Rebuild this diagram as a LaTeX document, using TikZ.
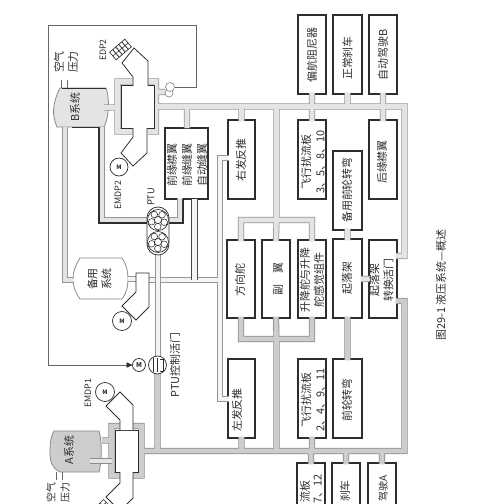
\documentclass[tikz,border=0pt]{standalone}
\usepackage{fontspec}
\setmainfont{Noto Sans CJK SC}
\usetikzlibrary{calc,arrows.meta}
\definecolor{edgeL}{HTML}{969696}
\definecolor{fillL}{HTML}{E4E4E4}
\definecolor{edgeD}{HTML}{8A8A8A}
\definecolor{fillD}{HTML}{CDCDCD}
\definecolor{edgeK}{HTML}{4A4A4A}
\definecolor{fillW}{HTML}{F4F4F4}
\definecolor{ink}{HTML}{2E2E2E}
\tikzset{
  boxnode/.style={draw=ink,line width=0.8pt,fill=white,inner sep=0pt,outer sep=-0.8pt},
  lbl/.style={rotate=90,inner sep=0pt,font=\fontsize{8.2pt}{10.5pt}\selectfont,text=ink,align=center},
  lblcut/.style={rotate=90,inner sep=0pt,font=\fontsize{7.5pt}{10.5pt}\selectfont,text=ink,align=center},
  tiny/.style={rotate=90,inner sep=0pt,font=\fontsize{6.6pt}{8pt}\selectfont,text=ink},
  airline/.style={draw=gray!80!black,line width=0.5pt},
  pumpbody/.style={draw=ink,line width=0.6pt,fill=white,line join=miter},
  motor/.style={circle,draw=ink,line width=0.55pt,fill=white,inner sep=0pt,outer sep=0pt,
     font=\fontsize{4.5pt}{5pt}\selectfont\bfseries,text=ink},
  tank/.style={draw=edgeD,line width=0.6pt},
}
\newcommand\bx[5]{\node[boxnode,minimum width={(#4-#2)*0.75},minimum height={(#5-#3)*0.75}] (#1) at ({(#2+#4)/2},{(#3+#5)/2}) {};}
\newcommand\duct[3]{\draw[line width=4.6pt,#1]#3;\draw[line width=3.4pt,#2]#3;}
\newcommand\gearbox[5]{% cx cy ux uy name
  \coordinate (#5) at (#1,#2);
  \draw[ink,line width=0.5pt,fill=white]
   ({#1-10*#3-5*(-#4)},{#2-10*#4-5*#3}) -- ({#1+10*#3-5*(-#4)},{#2+10*#4-5*#3}) --
   ({#1+10*#3+5*(-#4)},{#2+10*#4+5*#3}) -- ({#1-10*#3+5*(-#4)},{#2-10*#4+5*#3}) -- cycle;
  \foreach \t in {-6,-2,2,6}{
   \draw[ink,line width=0.6pt] ({#1+\t*#3-5*(-#4)},{#2+\t*#4-5*#3}) -- ({#1+\t*#3+5*(-#4)},{#2+\t*#4+5*#3});}
  \draw[ink,line width=0.4pt] ({#1-10*#3},{#2-10*#4}) -- ({#1+10*#3},{#2+10*#4});
}
\newcommand\ptugear[3]{% cx cy name
  \node[circle,draw=ink,line width=0.5pt,fill=white,minimum size={21*0.75},inner sep=0pt,outer sep=0pt] (#3) at (#1,#2) {};
  \draw[ink,line width=0.4pt] (#1,#2) circle (3.6);
  \foreach \a in {20,92,164,236,308}{
   \draw[ink,line width=0.4pt] ({#1+6.6*cos(\a)},{#2+6.6*sin(\a)}) circle (3.3);}
}
\begin{document}
\begin{tikzpicture}[x=0.75pt,y=-0.75pt]
\useasboundingbox (0,0) rectangle (499,504);
\clip (0,0) rectangle (499,504);
\fill[white] (0,0) rectangle (499,504);

% ---- functional boxes
\bx{yaw}{298}{15}{326}{94}
\bx{nbrake}{333}{15}{362}{94}
\bx{apb}{369}{15}{397}{94}
\bx{spa}{298}{120}{326}{199}
\bx{trail}{369}{120}{397}{199}
\bx{altnose}{333}{151}{362}{230}
\bx{slat}{165}{128}{208}{199}
\bx{rrev}{228}{120}{255}{199}
\bx{rud}{227}{240}{255}{318}
\bx{ail}{262}{240}{290}{318}
\bx{ele}{298}{240}{326}{318}
\bx{lg}{333}{239}{362}{318}
\bx{lgv}{369}{240}{397}{318}
\bx{lrev}{228}{359}{255}{438}
\bx{spb}{298}{359}{326}{438}
\bx{nose}{333}{359}{362}{438}
\bx{spc}{297}{463}{325}{540}
\bx{abrake}{332}{463}{360}{540}
\bx{apa}{368}{463}{396}{540}

% ---- reservoirs
\draw[tank,fill=fillL] (60,88) -- (106,88) .. controls (109.5,98) and (109.5,116) .. (104,127)
   -- (57,127) .. controls (52,116) and (52,104) .. (60,88) -- cycle;
\draw[ink,line width=0.7pt] (62,88) -- (106,88) (72,127) -- (99,127);
\draw[tank,fill=white] (80,258) -- (122,258) .. controls (127,266) and (128,272) .. (128,279)
   .. controls (128,286) and (127,292) .. (122,299) -- (80,299)
   .. controls (75,292) and (73,286) .. (73,279) .. controls (73,272) and (75,266) .. (80,258) -- cycle;
\draw[tank,fill=fillD] (54,431) -- (99,431) .. controls (102,440) and (102,462) .. (99,472)
   -- (60,472) .. controls (52,468) and (50,462) .. (50,452) .. controls (50,442) and (51,436) .. (54,431) -- cycle;

% air stubs
\draw[airline] (61,88) -- (61,80) (67,88) -- (67,80);
\draw[airline] (56,472) -- (56,480) (62,472) -- (62,480);

% ---- named junctions
\coordinate (tl) at (156,106.5);
\coordinate (tr) at (404.5,106.5);
\coordinate (br) at (404.5,451);
\coordinate (bl) at (141.5,451);
\coordinate (mt) at (276.5,220);
\coordinate (mb) at (276.5,339);
\coordinate (pu) at (0,256);
\coordinate (pl) at (0,301);
\coordinate (pm) at (0,279);
\coordinate (stby) at (0,280);
\coordinate (rl) at (220,158);
\coordinate (rb) at (220,399);

% ---- B system (light)
\duct{edgeL}{fillL}{
  (133,81.5) -- (117.5,81.5) -- (117.5,131.5) -- (133,131.5)
  (148,131.5) -- (156,131.5) -- (156,81.5) -- (148,81.5)
  (104,107.5) -- (117.5,107.5)
  (156,92) -- (165,92)
  (tl) -- (tr) -- (tr |- pu) -- (lgv.east |- pu)
  (yaw.south) -- (yaw.south |- tl)
  (nbrake.south) -- (nbrake.south |- tl)
  (apb.south) -- (apb.south |- tl)
  (spa.north) -- (spa.north |- tl)
  (trail.north) -- (trail.north |- tl)
  (rrev.north) -- (rrev.north |- tl)
  (187,128) -- (187,106.5)
  (mt |- tl) -- (mt)
  (rud.north) -- (rud.north |- mt) -- (ele.north |- mt) -- (ele.north)
  (mt) -- (ail.north)
  (altnose.south) -- (lg.north)
  (lg.east |- pm) -- (lgv.west |- pm)
}
% system lines on the left of the reversers
\duct{edgeL}{fillW}{
  (rrev.west |- rl) -- (rl) -- (rb) -- (lrev.west |- rb)
  (149,280) -- (stby -| rl)
  (128,279) -- (136,279)
}
\duct{edgeK}{fillW}{ (194.5,198.5) -- (194.5,280) }
\duct{edgeL}{fillL}{ (65,127) -- (65,280) -- (73.5,280) }
% B reservoir to PTU
\duct{edgeL}{fillL}{ (102,127) -- (102,220.5) -- (180,220.5) -- (slat.south -| 180,0) }
\draw[ink,line width=0.8pt] (99,127) -- (99,223) -- (183,223) -- (183,199);

% PTU line
\duct{edgeL}{fillW}{ (158,250) -- (158,358) }

% ---- dark lower part
\duct{edgeD}{fillD}{
  (bl) -- (br) -- (br |- pl) -- (lgv.east |- pl)
  (157.5,372) -- (157.5,451)
  (lrev.south) -- (lrev.south |- br)
  (spb.south) -- (spb.south |- br)
  (spc.north) -- (spc.north |- br)
  (abrake.north) -- (abrake.north |- br)
  (apa.north) -- (apa.north |- br)
  (lg.south) -- (nose.north)
  (mb) -- (mb |- br)
  (rud.south) -- (rud.south |- mb) -- (ele.south |- mb) -- (ele.south)
  (mb) -- (ail.south)
  (120,426) -- (111.5,426) -- (111.5,475.5) -- (120,475.5)
  (133,426) -- (141.5,426) -- (141.5,475.5) -- (133,475.5)
  (102,440.5) -- (111.5,440.5)
}
\duct{edgeD}{fillL}{ (90,461) -- (111.5,461) }

% ---- pump casings
\draw[ink,line width=0.65pt,fill=white] (121,85) rectangle (154,128);
\draw[ink,line width=0.65pt,fill=white] (115,430) rectangle (138,472);
\draw[pumpbody] (133,86) -- (133,77) -- (122,63) -- (134,48) -- (148,61) -- (148,86);
\draw[pumpbody] (133,128) -- (133,137) -- (121,153) -- (133,166) -- (147,153) -- (147,128);
\draw[pumpbody] (136,273) -- (149,273) -- (149,307) -- (136,320) -- (122,306) -- (136,292) -- cycle;
\draw[pumpbody] (120,430) -- (120,420) -- (106,406) -- (120,392) -- (133,405) -- (133,430);
\draw[pumpbody] (120,472) -- (120,483) -- (106,497) -- (120,511) -- (133,498) -- (133,472);

\gearbox{120.5}{49.5}{0.76}{-0.65}{edptwo}
\gearbox{107}{510}{0.7}{0.7}{edpone}

% ---- motors
\node[motor,minimum size={18*0.75}] (mtwo) at (119,167) {M};
\node[motor,minimum size={19*0.75}] (mstby) at (122,321) {M};
\node[motor,minimum size={19*0.75}] (mone) at (105,392) {M};
\node[motor,minimum size={13*0.75},font=\fontsize{5pt}{5pt}\selectfont\bfseries] (mv) at (139,365) {M};

% ---- air valve and pressure line
\node[circle,draw=edgeD,line width=0.5pt,fill=white,minimum size={8*0.75},inner sep=0pt] (valveb) at (169,93) {};
\node[circle,draw=edgeD,line width=0.5pt,fill=white,minimum size={9*0.75},inner sep=0pt] (valve) at (170,87) {};
\draw[airline] (valve.east) -- (196,87) -- (196,25) -- (48,25) -- (48,365) -- (128,365);
\draw[-{Triangle[length=4.5pt,width=4pt]},ink,line width=0.4pt] (128,365) -- (mv.west);

% ---- PTU
\draw[ink,line width=0.55pt,fill=white,rounded corners=8.2pt] (147,207) rectangle (169,255);
\ptugear{158}{220}{ptua}
\ptugear{158}{242}{ptub}

% ---- PTU control valve
\draw[ink,line width=0.55pt,fill=white] (157.5,365) circle (9);
\draw[ink,line width=0.7pt] (153,358) -- (153,372) (157,358) -- (157,372);
\draw[ink,line width=0.5pt] (160,359) -- (163,359) -- (163,371) -- (160,371);

% ---- texts
\node[lbl] at (312,55) {偏航阻尼器};
\node[lbl] at (347.5,58) {正常刹车};
\node[lbl] at (383,55) {自动驾驶B};
\node[lbl] at (313,162) {飞行扰流板\\3、5、8、10};
\node[lbl] at (382,162) {后缘襟翼};
\node[lbl] at (347,190) {备用前轮转弯};
\node[lbl] at (172,165) {前缘襟翼};
\node[lbl] at (187,165) {前缘缝翼};
\node[lbl] at (202,165) {自动缝翼};
\node[lbl] at (241,160) {右发反推};
\node[lbl] at (240,280) {方向舵};
\node[lbl] at (278,279) {副\hspace{1em}翼};
\node[lbl] at (312,280) {升降舵与升降\\舵感觉组件};
\node[lbl] at (347,278) {起落架};
\node[lbl] at (381.5,280) {起落架\\转换活门};
\node[lbl] at (237,410) {左发反推};
\node[lbl] at (313,400) {飞行扰流板\\2、4、9、11};
\node[lbl] at (347,400) {前轮转弯};
\node[lbl,anchor=east] at (305,480) {流板};
\node[lbl,anchor=east] at (318,474) {7、12};
\node[lbl] at (345,491) {刹车};
\node[lblcut,anchor=east] at (383,475) {驾驶A};
\node[lbl] at (75,107) {B系统};
\node[lbl] at (99.5,279) {备用\\系统};
\node[lbl] at (69,450) {A系统};
\node[lbl] at (66,62) {空气\\压力};
\node[lblcut] at (58,492) {空气\\压力};
\node[tiny] at (103,50) {EDP2};
\node[tiny] at (118,195) {EMDP2};
\node[tiny] at (88,393) {EMDP1};
\node[tiny,font=\fontsize{7pt}{8pt}\selectfont] at (151,197) {PTU};
\node[lbl] at (175,365) {PTU控制活门};
\node[lbl,font=\fontsize{8.2pt}{10pt}\selectfont] at (441,285) {图29-1 液压系统—概述};
\end{tikzpicture}
\end{document}
